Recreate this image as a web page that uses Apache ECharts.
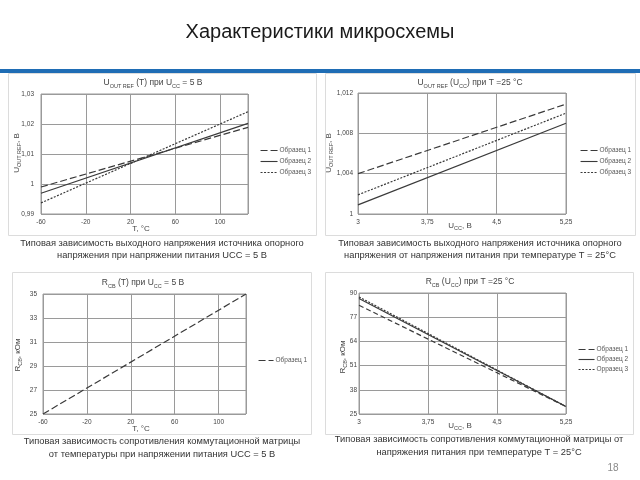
<!DOCTYPE html>
<html><head><meta charset="utf-8">
<script src="https://cdn.jsdelivr.net/npm/echarts@6/dist/echarts.min.js"></script>
<style>html,body{margin:0;padding:0;background:#fff}#c{width:640px;height:480px}</style>
</head><body><div id="c"></div>
<script>
// ---- data ----
const tempX = [-60, 125];
const uccX = [3, 5.25];
const uoutT1 = [0.9990, 1.0189];
const uoutT2 = [0.9969, 1.0202];
const uoutT3 = [0.9937, 1.0241];
const uoutU1 = [1.0040, 1.0109];
const uoutU2 = [1.0009, 1.0090];
const uoutU3 = [1.0019, 1.0100];
const rcbT1 = [25.0, 35.0];
const rcbU1 = [83.4, 29.0];
const rcbU2 = [87.0, 29.0];
const rcbU3 = [87.9, 29.0];
const names123 = ['Образец 1', 'Образец 2', 'Образец 3'];
const names4 = ['Образец 1', 'Образец 2', 'Орразец 3'];
const mainTitle = 'Характеристики микросхемы';
const captions = [
  ['Типовая зависимость выходного напряжения источника опорного', 'напряжения при напряжении питания UCC = 5 В'],
  ['Типовая зависимость выходного напряжения источника опорного', 'напряжения от напряжения питания при температуре T = 25°C'],
  ['Типовая зависимость сопротивления коммутационной матрицы', 'от температуры при напряжении питания UCC = 5 В'],
  ['Типовая зависимость сопротивления коммутационной матрицы от', 'напряжения питания при температуре T = 25°C']
];
const pageNumber = '18';

// ---- helpers ----
const FONT = "'Liberation Sans', Arial, sans-serif";
const INK = '#3a3a3a';
const pairs = (xs, ys) => xs.map((x, i) => [x, ys[i]]);
const comma = v => String(+v.toFixed(4)).replace('.', ',');
const dashes = [[7, 3], null, [2, 1.5]];
const dashes4 = [[5, 3], null, [2, 1.5]];
const gridLine = { show: true, lineStyle: { color: '#9a9a9a', width: 1 } };
const rich = {
  n: { fontSize: 8.5, lineHeight: 12, fill: '#444', fontFamily: FONT },
  s: { fontSize: 5.5, lineHeight: 7, verticalAlign: 'bottom', fill: '#444', fontFamily: FONT }
};
const richAx = {
  n: { fontSize: 8, lineHeight: 11, fill: '#444', fontFamily: FONT },
  s: { fontSize: 5.5, lineHeight: 7, verticalAlign: 'bottom', fill: '#444', fontFamily: FONT }
};

function xAx(idx, min, max, interval, showMax) {
  return {
    type: 'value', gridIndex: idx, min, max, interval,
    axisLine: { show: false }, axisTick: { show: false },
    splitLine: gridLine,
    axisLabel: { fontSize: 6.5, color: '#444', margin: 5, fontFamily: FONT, showMaxLabel: showMax, formatter: v => comma(v) }
  };
}
function yAx(idx, min, max, interval, margin) {
  return {
    type: 'value', gridIndex: idx, min, max, interval,
    axisLine: { show: false }, axisTick: { show: false },
    splitLine: gridLine,
    axisLabel: { fontSize: 6.5, color: '#444', margin, fontFamily: FONT, formatter: v => comma(v) }
  };
}
function line(name, idx, data, dash) {
  return {
    type: 'line', name, xAxisIndex: idx, yAxisIndex: idx, data,
    symbol: 'none', silent: true, color: INK,
    lineStyle: { color: INK, width: 1.2, type: dash || 'solid' }
  };
}
function legend(left, top, names, gap, w) {
  return {
    orient: 'vertical', left, top, data: names, itemWidth: w, itemHeight: 7, itemGap: gap,
    padding: 0, selectedMode: false,
    itemStyle: { opacity: 0 },
    lineStyle: { width: 1.1 },
    textStyle: { fontSize: 6.5, color: '#555', fontFamily: FONT, padding: [0, 0, 0, -3] }
  };
}
function rtext(x, y, text, rot, r) {
  return { type: 'text', x, y, rotation: rot || 0,
    style: { text, align: 'center', verticalAlign: 'middle', rich: r || rich } };
}
function ptext(x, y, text, size, color) {
  return { type: 'text', x, y,
    style: { text, align: 'center', verticalAlign: 'middle', fill: color || '#333', font: size + 'px ' + FONT } };
}
function frame(x1, y1, x2, y2) {
  return { type: 'rect', shape: { x: x1 + 0.5, y: y1 + 0.5, width: x2 - x1, height: y2 - y1 },
    style: { fill: '#fff', stroke: '#dcdcdc', lineWidth: 1 }, z: -10 };
}

const grids = [
  { left: 41, top: 94, width: 207, height: 120 },
  { left: 358, top: 93, width: 208, height: 121 },
  { left: 43, top: 294, width: 203, height: 120 },
  { left: 359, top: 293, width: 207, height: 121 }
].map(g => Object.assign({ show: true, borderColor: '#9a9a9a', borderWidth: 1, backgroundColor: 'transparent' }, g));

const option = {
  animation: false,
  backgroundColor: '#fff',
  color: [INK],
  grid: grids,
  xAxis: [
    xAx(0, -60, 125, 40, false),
    xAx(1, 3, 5.25, 0.75, true),
    xAx(2, -60, 125, 40, false),
    xAx(3, 3, 5.25, 0.75, true)
  ],
  yAxis: [
    yAx(0, 0.99, 1.03, 0.01, 7),
    yAx(1, 1, 1.012, 0.004, 5),
    yAx(2, 25, 35, 2, 6),
    yAx(3, 25, 90, 13, 2)
  ],
  legend: [
    legend(260, 147, names123, 4, 17),
    legend(580, 147, names123, 4, 17),
    legend(258, 357, ['Образец 1'], 4, 15),
    legend(578, 346, names4, 3, 16)
  ],
  series: [
    line(names123[0], 0, pairs(tempX, uoutT1), dashes[0]),
    line(names123[1], 0, pairs(tempX, uoutT2), dashes[1]),
    line(names123[2], 0, pairs(tempX, uoutT3), dashes[2]),
    line(names123[0], 1, pairs(uccX, uoutU1), dashes[0]),
    line(names123[1], 1, pairs(uccX, uoutU2), dashes[1]),
    line(names123[2], 1, pairs(uccX, uoutU3), dashes[2]),
    line(names123[0], 2, pairs(tempX, rcbT1), dashes[0]),
    line(names4[0], 3, pairs(uccX, rcbU1), dashes4[0]),
    line(names4[1], 3, pairs(uccX, rcbU2), dashes4[1]),
    line(names4[2], 3, pairs(uccX, rcbU3), dashes4[2])
  ],
  graphic: [
    { type: 'rect', shape: { x: 0, y: 69, width: 640, height: 4 }, style: { fill: '#1f6db5' }, z: -5 },
    frame(8, 73, 316, 235),
    frame(325, 73, 635, 235),
    frame(12, 272, 311, 434),
    frame(325, 272, 633, 434),
    ptext(320, 32, mainTitle, 20, '#1a1a1a'),
    rtext(153, 83, '{n|U}{s|OUT REF}{n| (T) при U}{s|CC}{n| = 5 В}'),
    rtext(470, 83, '{n|U}{s|OUT REF}{n| (U}{s|CC}{n|) при T =25 °C}'),
    rtext(143, 283, '{n|R}{s|CB}{n| (T) при U}{s|CC}{n| = 5 В}'),
    rtext(470, 282, '{n|R}{s|CB}{n| (U}{s|CC}{n|) при T =25 °C}'),
    rtext(17, 153, '{n|U}{s|OUT REF}{n|, В}', Math.PI / 2, richAx),
    rtext(329, 153, '{n|U}{s|OUT REF}{n|, В}', Math.PI / 2, richAx),
    rtext(18, 355, '{n|R}{s|CB}{n|, кОм}', Math.PI / 2, richAx),
    rtext(343, 357, '{n|R}{s|CB}{n|, кОм}', Math.PI / 2, richAx),
    rtext(141, 229, '{n|T, °C}', 0, richAx),
    rtext(460, 226, '{n|U}{s|CC}{n|, В}', 0, richAx),
    rtext(141, 429, '{n|T, °C}', 0, richAx),
    rtext(460, 426, '{n|U}{s|CC}{n|, В}', 0, richAx),
    ptext(162, 243, captions[0][0], 9.3, '#333'),
    ptext(162, 255, captions[0][1], 9.3, '#333'),
    ptext(480, 243, captions[1][0], 9.3, '#333'),
    ptext(480, 255, captions[1][1], 9.3, '#333'),
    ptext(162, 441, captions[2][0], 9.3, '#333'),
    ptext(162, 454, captions[2][1], 9.3, '#333'),
    ptext(479, 439, captions[3][0], 9.3, '#333'),
    ptext(479, 452, captions[3][1], 9.3, '#333'),
    ptext(613, 468, pageNumber, 10, '#8a8a8a')
  ]
};
echarts.init(document.getElementById('c'), null, { renderer: 'canvas' }).setOption(option);
</script></body></html>
